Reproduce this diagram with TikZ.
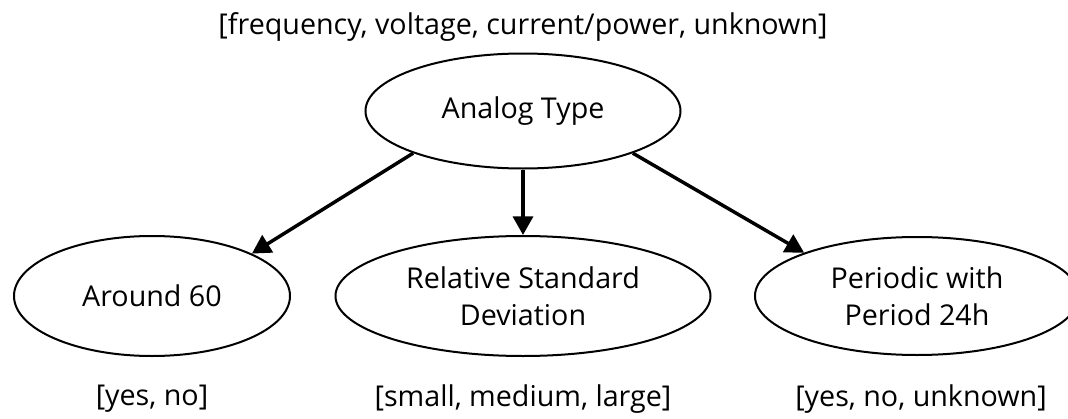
\documentclass[tikz,border=0pt]{standalone}
\usepackage{fontspec}
\setmainfont{Open Sans}
\usepackage{xcolor}
\usepackage{tikz}
\usetikzlibrary {positioning}
\usetikzlibrary{arrows.meta,shapes.geometric}
\tikzset{edge/.style = {-{Triangle[length=14pt,width=15pt]}, line width=2.6pt}}

\begin{document}
\begin{tikzpicture}[auto,node distance=138.75pt,
    main node/.style={ellipse,draw,line width=1.5pt,inner sep=0pt,align=center,font=\fontsize{21.5pt}{27.75pt}\selectfont},
    value node/.style={inner sep=0pt,font=\fontsize{21.5pt}{27.75pt}\selectfont}]
                \useasboundingbox (-392.25pt,-230.25pt) rectangle (408.75pt,83.25pt);

                \node[main node, minimum width=236.25pt, minimum height=86.25pt] (type) []{Analog Type};
                \node[main node, minimum width=281.25pt, minimum height=90pt] (rsd) [below of=type] {Relative Standard\\Deviation};
                \node[main node, minimum width=207pt, minimum height=90pt] (around) [left of=rsd, node distance=278.25pt] {Around 60};
                \node[main node, minimum width=243pt, minimum height=88.5pt] (periodic) [right of=rsd, node distance=295.5pt] {Periodic with\\Period 24h};

                \node[value node] (typevals) [above of=type, node distance=63pt] {[frequency, voltage, current/power, unknown]};
                \node[value node] (aroundvals) [below of=around, node distance=77.25pt] {[yes, no]};
                \node[value node] (rsdvals) [below of=rsd, node distance=77.25pt] {[small, medium, large]};
                \node[value node] (periodicvals) [below of=periodic, node distance=77.25pt, xshift=3pt] {[yes, no, unknown]};

                \draw[edge] (type.201.6) -- (around.23.7);
                \draw[edge] (type) -- (rsd);
                \draw[edge] (type.339) -- (periodic.159.8);
            \end{tikzpicture}
\end{document}
